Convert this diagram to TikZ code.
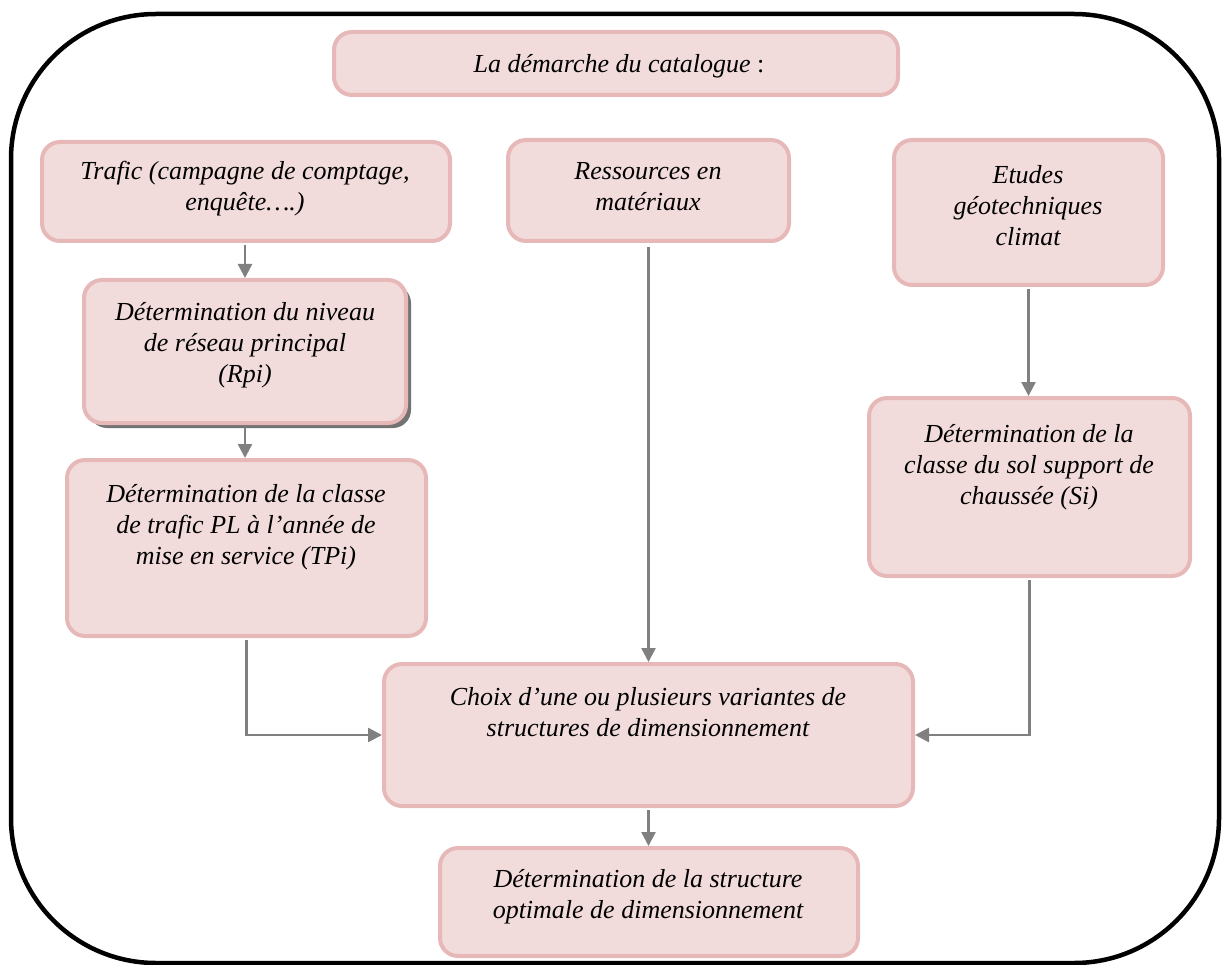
\documentclass[tikz,border=0pt]{standalone}
\usepackage{fontspec}
\setmainfont{Liberation Serif}
\usetikzlibrary{arrows.meta,shadows}
\definecolor{boxfill}{HTML}{F2DCDB}
\definecolor{boxline}{HTML}{E6B9B8}
\definecolor{arrgray}{HTML}{808080}
\tikzset{
  box/.style={draw=boxline, fill=boxfill, line width=4pt, rounded corners=18pt, inner sep=0pt},
  txt/.style={align=center, font=\fontsize{26}{31}\selectfont\itshape, inner sep=0pt},
  arr/.style={draw=arrgray, line width=2.5pt, -{Triangle[length=14pt,width=14pt]}, shorten <=2pt},
  shadowed/.style={drop shadow={shadow xshift=5pt, shadow yshift=-5pt, fill=black!55, opacity=1}}
}
\begin{document}
\begin{tikzpicture}[x=1pt,y=-1pt]
\useasboundingbox (0,0) rectangle (1222,965);
% outer frame
\draw[line width=4.5pt, rounded corners=145pt] (11,14) rectangle (1219,963);

% boxes
\node[box, minimum width=564pt, minimum height=63pt] (title) at (616,63.5) {};
\node[box, minimum width=408pt, minimum height=99pt] (trafic) at (246,191.5) {};
\node[box, minimum width=281pt, minimum height=101pt] (ress) at (648.5,190.5) {};
\node[box, minimum width=269pt, minimum height=145pt] (etudes) at (1028.5,212.5) {};
\node[box, shadowed, minimum width=322pt, minimum height=143pt] (rpi) at (245,351.5) {};
\node[box, minimum width=359pt, minimum height=176pt] (tpi) at (246.5,548) {};
\node[box, minimum width=321pt, minimum height=178pt] (sol) at (1029.5,487) {};
\node[box, minimum width=529pt, minimum height=142pt] (choix) at (648.5,735) {};
\node[box, minimum width=418pt, minimum height=108pt] (final) at (649,902) {};

% texts
\node[txt, font=\fontsize{26}{31}\selectfont] (ttitle) at (619,66) {\textit{La démarche du catalogue} :};
\node[txt] (ttrafic) at (245,189) {Trafic (campagne de comptage,\\enquête….)};
\node[txt] (tress) at (648,187) {Ressources en\\matériaux};
\node[txt] (tetudes) at (1028,206) {Etudes\\géotechniques\\climat};
\node[txt] (trpi) at (245,345) {Détermination du niveau\\de réseau principal\\(Rpi)};
\node[txt] (ttpi) at (246,527) {Détermination de la classe\\de trafic PL à l’année de\\mise en service (TPi)};
\node[txt] (tsol) at (1029,467) {Détermination de la\\classe du sol support de\\chaussée (Si)};
\node[txt] (tchoix) at (648,712) {Choix d’une ou plusieurs variantes de\\structures de dimensionnement};
\node[txt] (tfinal) at (648,897) {Détermination de la structure\\optimale de dimensionnement};

% connectors
\draw[arr] (trafic.south -| rpi.north) -- (rpi.north);
\draw[arr] (rpi.south) -- (rpi.south |- tpi.north);
\draw[arr, shorten <=4pt] (ress.south) -- (ress.south |- choix.north);
\draw[arr] (etudes.south) -- (etudes.south |- sol.north);
\draw[arr] (tpi.south) |- (choix.west);
\draw[arr] (sol.south) |- (choix.east);
\draw[arr] (choix.south) -- (choix.south |- final.north);
\end{tikzpicture}
\end{document}
